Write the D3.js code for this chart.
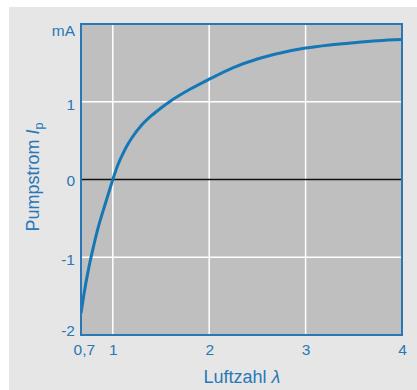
<!DOCTYPE html>
<html>
<head>
<meta charset="utf-8">
<script src="https://cdn.jsdelivr.net/npm/d3@7"></script>
<style>
  html, body { margin: 0; padding: 0; background: #ffffff; }
  svg { display: block; }
  text { font-family: "Liberation Sans", Arial, Helvetica, sans-serif; }
</style>
</head>
<body>
<svg id="chart" width="417" height="390"></svg>
<script>
// ---- data ----
const lambdaValues = [0.67, 0.70, 0.75, 0.80, 0.85, 0.90, 0.95, 1.00, 1.05, 1.10, 1.15, 1.20, 1.30, 1.40, 1.50, 1.60, 1.80, 2.00, 2.25, 2.50, 2.75, 3.00, 3.25, 3.50, 3.75, 4.00];
const pumpCurrent  = [-1.72, -1.48, -1.14, -0.86, -0.61, -0.40, -0.20, 0.00, 0.18, 0.32, 0.44, 0.54, 0.70, 0.82, 0.92, 1.01, 1.16, 1.29, 1.44, 1.55, 1.63, 1.69, 1.73, 1.76, 1.785, 1.80];
const xTicks = [0.7, 1, 2, 3, 4];
const xTickLabels = ["0,7", "1", "2", "3", "4"];
const yTicks = [-2, -1, 0, 1, 2];
const yTickLabels = ["-2", "-1", "0", "1", "mA"];
const xGrid = [1, 2, 3];
const yGrid = [-1, 1];
const xDomain = [0.67, 4];
const yDomain = [-2, 2];

// ---- styles ----
const blue = "#2878b8";
const lineBlue = "#1677b7";
const plotGray = "#bfbfbf";
const panelGray = "#e6e6e6";

const svg = d3.select("#chart");
const L = 81, R = 402, T = 24, B = 335;

const x = d3.scaleLinear().domain(xDomain).range([L, R]);
const y = d3.scaleLinear().domain(yDomain).range([B, T]);

// outer panel
svg.append("rect").attr("x", 9).attr("y", 7).attr("width", 417 - 9).attr("height", 390 - 7)
  .attr("fill", panelGray);

// plot background
svg.append("rect").attr("x", L).attr("y", T).attr("width", R - L).attr("height", B - T)
  .attr("fill", plotGray);

// grid
svg.append("g").selectAll("line").data(xGrid).join("line")
  .attr("x1", d => x(d)).attr("x2", d => x(d)).attr("y1", T).attr("y2", B)
  .attr("stroke", "#ffffff").attr("stroke-width", 1.5);
svg.append("g").selectAll("line").data(yGrid).join("line")
  .attr("x1", L).attr("x2", R).attr("y1", d => y(d)).attr("y2", d => y(d))
  .attr("stroke", "#ffffff").attr("stroke-width", 1.5);

// zero line
svg.append("line").attr("x1", L).attr("x2", R).attr("y1", y(0)).attr("y2", y(0))
  .attr("stroke", "#111111").attr("stroke-width", 1.5);

// curve
svg.append("clipPath").attr("id", "clip").append("rect")
  .attr("x", L).attr("y", T).attr("width", R - L).attr("height", B - T);
const pts = lambdaValues.map((d, i) => [d, pumpCurrent[i]]);
const line = d3.line().x(d => x(d[0])).y(d => y(d[1])).curve(d3.curveMonotoneX);
svg.append("path").datum(pts).attr("d", line)
  .attr("fill", "none").attr("stroke", lineBlue).attr("stroke-width", 3)
  .attr("clip-path", "url(#clip)");

// border
svg.append("rect").attr("x", L).attr("y", T).attr("width", R - L).attr("height", B - T)
  .attr("fill", "none").attr("stroke", blue).attr("stroke-width", 2);

// x axis
const xAxis = d3.axisBottom(x).tickValues(xTicks).tickSize(0).tickPadding(0)
  .tickFormat((d, i) => xTickLabels[i]);
const gx = svg.append("g").attr("transform", `translate(0,${B})`).call(xAxis);
gx.select(".domain").remove();
gx.selectAll("text").attr("fill", blue).attr("font-size", 15.5)
  .attr("dy", null).attr("y", 20);

// y axis
const yAxis = d3.axisLeft(y).tickValues(yTicks).tickSize(0).tickPadding(0)
  .tickFormat((d, i) => yTickLabels[i]);
const gy = svg.append("g").attr("transform", `translate(${75},0)`).call(yAxis);
gy.select(".domain").remove();
gy.selectAll("text").attr("fill", blue).attr("font-size", 15.5)
  .attr("x", 0).attr("dy", "0.36em")
  .attr("transform", (d) => d === 2 ? "translate(0,6)" : d === 1 ? "translate(0,2)" : d === -2 ? "translate(0,-5)" : d === -1 ? "translate(0,2)" : null);

// x title
const xt = svg.append("text").attr("x", 242).attr("y", 383).attr("text-anchor", "middle")
  .attr("fill", blue).attr("font-size", 18);
xt.append("tspan").text("Luftzahl ");
xt.append("tspan").attr("font-style", "italic").text("λ");

// y title
const yt = svg.append("text").attr("transform", "translate(39,177) rotate(-90)")
  .attr("text-anchor", "middle").attr("fill", blue).attr("font-size", 18);
yt.append("tspan").text("Pumpstrom ");
yt.append("tspan").attr("font-style", "italic").text("I");
yt.append("tspan").attr("font-size", 12.5).attr("dy", 4).text("p");
</script>
</body>
</html>
